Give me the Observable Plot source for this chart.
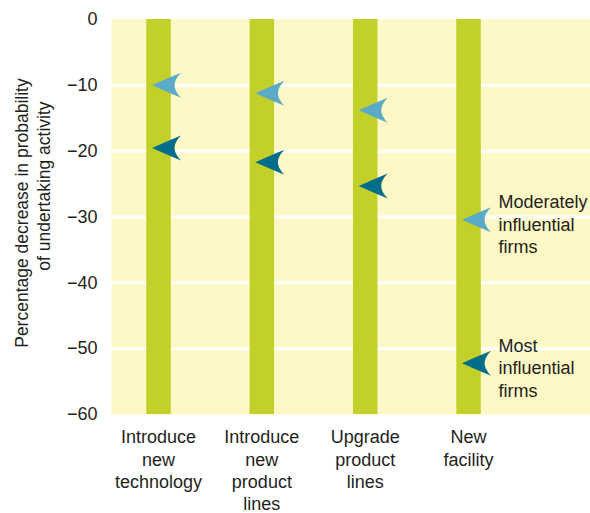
<!DOCTYPE html>
<html><head><meta charset="utf-8">
<script src="https://cdn.jsdelivr.net/npm/d3@7"></script>
<script src="https://cdn.jsdelivr.net/npm/@observablehq/plot@0.6"></script>
<style>body{margin:0;background:#fff}</style>
</head><body><div id="chart"></div>
<script>
const activities = ["Introduce\nnew\ntechnology", "Introduce\nnew\nproduct\nlines", "Upgrade\nproduct\nlines", "New\nfacility"];
const moderatelyInfluential = [-10.0, -11.2, -13.8, -30.4];
const mostInfluential = [-19.5, -21.7, -25.3, -52.2];
const yTicks = [0, -10, -20, -30, -40, -50, -60];
const gridValues = [-10, -20, -30, -40, -50];
const seriesLabels = ["Moderately\ninfluential\nfirms", "Most\ninfluential\nfirms"];
const yLabelLines = ["Percentage decrease in probability", "of undertaking activity"];

const idx = activities.map((_, i) => i);
const last = activities.length - 1;

// notched arrowhead pointing left, tip slightly left of the bar centre
const arrow = {
  draw(ctx) {
    ctx.moveTo(-6.5, 0);
    ctx.quadraticCurveTo(9, -7, 22.5, -12.5);
    ctx.quadraticCurveTo(16, -6, 16, 0);
    ctx.quadraticCurveTo(16, 6, 22.5, 12.5);
    ctx.quadraticCurveTo(9, 7, -6.5, 0);
    ctx.closePath();
  }
};

const font = "'Liberation Sans', Arial, sans-serif";

const chart = Plot.plot({
  width: 590,
  height: 513,
  marginLeft: 111,
  marginRight: 0,
  marginTop: 19,
  marginBottom: 99,
  style: {fontFamily: font, fontSize: "18px", color: "#231f20", background: "#fff", overflow: "visible"},
  x: {type: "linear", domain: [-0.455, 4.18]},
  y: {domain: [-60, 0]},
  marks: [
    Plot.frame({fill: "#fef8c6", stroke: null}),
    Plot.ruleY(gridValues, {stroke: "#fff", strokeWidth: 3}),
    Plot.ruleX(idx, {x: d => d, y1: -60, y2: 0, stroke: "#c3d02a", strokeWidth: 24.5}),
    Plot.dot(idx, {x: d => d, y: i => moderatelyInfluential[i], symbol: arrow, fill: "#5aaac8", stroke: null}),
    Plot.dot(idx, {x: d => d, y: i => mostInfluential[i], symbol: arrow, fill: "#006e8b", stroke: null}),
    Plot.text(seriesLabels, {
      x: () => last,
      y: [moderatelyInfluential[last], mostInfluential[last]],
      text: d => d,
      textAnchor: "start",
      lineAnchor: "middle",
      lineHeight: 1.25,
      dx: 30,
      dy: 4,
      fontSize: 18,
      fill: "#231f20"
    }),
    Plot.axisX(idx, {tickSize: 0, tickPadding: 13, tickFormat: i => activities[i], label: null, lineHeight: 1.24, fontSize: 18, fill: "#231f20"}),
    Plot.axisY(yTicks, {tickSize: 0, tickPadding: 14, label: null, fontSize: 18, fill: "#231f20"}),
    Plot.text([yLabelLines[0]], {frameAnchor: "left", y: () => -29.4, dx: -89, rotate: -90, textAnchor: "middle", lineAnchor: "middle", text: d => d, fontSize: 17.5, fill: "#231f20"}),
    Plot.text([yLabelLines[1]], {frameAnchor: "left", y: () => -25.3, dx: -67, rotate: -90, textAnchor: "middle", lineAnchor: "middle", text: d => d, fontSize: 17.5, fill: "#231f20"})
  ]
});
document.getElementById("chart").appendChild(chart);
</script>
</body></html>
